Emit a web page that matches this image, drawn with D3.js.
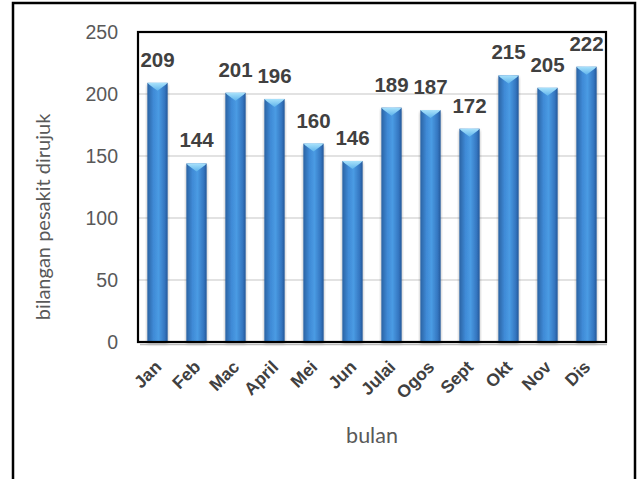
<!DOCTYPE html>
<html lang="en">
<head>
<meta charset="utf-8">
<title>bilangan pesakit dirujuk</title>
<script src="https://d3js.org/d3.v7.min.js"></script>
<style>
  body { margin: 0; background: #fff; }
  .tick-y { font-family: 'Liberation Sans', Arial, sans-serif; font-size: 19.5px; fill: #595959; }
  .tick-x { font-family: 'Liberation Sans', Arial, sans-serif; font-size: 17.5px; font-weight: bold; fill: #404040; }
  .val { font-family: 'Liberation Sans', Arial, sans-serif; font-size: 20.5px; font-weight: bold; fill: #404040; }
  .title { font-family: 'Lato', 'Open Sans', sans-serif; font-size: 20px; fill: #595959; }
</style>
</head>
<body>
<svg id="chart" width="641" height="479"></svg>
<script>
// data
var months = ["Jan", "Feb", "Mac", "April", "Mei", "Jun", "Julai", "Ogos", "Sept", "Okt", "Nov", "Dis"];
var patients = [209, 144, 201, 196, 160, 146, 189, 187, 172, 215, 205, 222];
var yTicks = [0, 50, 100, 150, 200, 250];

var svg = d3.select("#chart");

// outer frame (runs off the bottom of the picture)
svg.append("rect")
  .attr("x", 13).attr("y", 3)
  .attr("width", 622).attr("height", 520)
  .attr("fill", "none").attr("stroke", "#000").attr("stroke-width", 2.5);

var plot = { left: 138, right: 606, top: 32, bottom: 342 };

var x = d3.scaleBand()
  .domain(months)
  .range([plot.left, plot.right])
  .paddingInner(0.48)
  .paddingOuter(0.24);

var y = d3.scaleLinear()
  .domain([0, 250])
  .range([plot.bottom, plot.top]);

var defs = svg.append("defs");
var grad = defs.append("linearGradient").attr("id", "barGrad")
  .attr("x1", "0%").attr("x2", "100%").attr("y1", "0%").attr("y2", "0%");
grad.append("stop").attr("offset", "0%").attr("stop-color", "#2a63a3");
grad.append("stop").attr("offset", "30%").attr("stop-color", "#3f8ad6");
grad.append("stop").attr("offset", "55%").attr("stop-color", "#4a9be3");
grad.append("stop").attr("offset", "85%").attr("stop-color", "#3476c0");
grad.append("stop").attr("offset", "100%").attr("stop-color", "#24599a");

var capGrad = defs.append("linearGradient").attr("id", "capGrad")
  .attr("x1", "0%").attr("x2", "0%").attr("y1", "0%").attr("y2", "100%");
capGrad.append("stop").attr("offset", "0%").attr("stop-color", "#a9e2fb");
capGrad.append("stop").attr("offset", "100%").attr("stop-color", "#5fb4ec");

var shadow = defs.append("filter").attr("id", "shadow")
  .attr("x", "-10%").attr("y", "-10%").attr("width", "120%").attr("height", "130%");
shadow.append("feDropShadow").attr("dx", 0).attr("dy", 2).attr("stdDeviation", 1.5)
  .attr("flood-color", "#000").attr("flood-opacity", 0.35);

// gridlines
svg.append("g")
  .selectAll("line")
  .data(yTicks.filter(function(d) { return d > 0 && d < 250; }))
  .enter().append("line")
  .attr("x1", plot.left).attr("x2", plot.right)
  .attr("y1", function(d) { return y(d); })
  .attr("y2", function(d) { return y(d); })
  .attr("stroke", "#d9d9d9").attr("stroke-width", 1.3);

// bars
var bars = svg.append("g").selectAll("g")
  .data(patients)
  .enter().append("g");

bars.append("rect")
  .attr("x", function(d, i) { return x(months[i]); })
  .attr("y", function(d) { return y(d); })
  .attr("width", x.bandwidth())
  .attr("height", function(d) { return y(0) - y(d); })
  .attr("fill", "url(#barGrad)")
  .attr("filter", "url(#shadow)");

bars.append("path")
  .attr("d", function(d, i) {
    var x0 = x(months[i]), w = x.bandwidth(), top = y(d);
    return "M" + x0 + "," + top + "L" + (x0 + w) + "," + top +
      "L" + (x0 + w - 2) + "," + (top + 2) +
      "L" + (x0 + w / 2) + "," + (top + 8) +
      "L" + (x0 + 2) + "," + (top + 2) + "Z";
  })
  .attr("fill", "url(#capGrad)");

// value labels
svg.append("g").selectAll("text")
  .data(patients)
  .enter().append("text")
  .attr("class", "val")
  .attr("text-anchor", "middle")
  .attr("x", function(d, i) { return x(months[i]) + x.bandwidth() / 2; })
  .attr("y", function(d) { return y(d) - 16; })
  .text(function(d) { return d; });

// plot border
svg.append("rect")
  .attr("x", plot.left).attr("y", plot.top)
  .attr("width", plot.right - plot.left).attr("height", plot.bottom - plot.top)
  .attr("fill", "none").attr("stroke", "#000").attr("stroke-width", 2.2);
svg.append("line")
  .attr("x1", plot.left + 2).attr("x2", plot.right + 1)
  .attr("y1", plot.bottom + 2.5).attr("y2", plot.bottom + 2.5)
  .attr("stroke", "#bbb").attr("stroke-width", 1.5);

// y axis
var yAxis = svg.append("g")
  .attr("transform", "translate(" + plot.left + ",0)")
  .call(d3.axisLeft(y).tickValues(yTicks).tickSize(0).tickPadding(20));
yAxis.select(".domain").remove();
yAxis.selectAll("text").attr("class", "tick-y").attr("fill", null).attr("font-size", null).attr("font-family", null);

// x axis
var xAxis = svg.append("g")
  .attr("transform", "translate(0," + plot.bottom + ")")
  .call(d3.axisBottom(x).tickSize(0));
xAxis.select(".domain").remove();
xAxis.selectAll("text")
  .attr("class", "tick-x").attr("fill", null).attr("font-size", null).attr("font-family", null)
  .attr("text-anchor", "end")
  .attr("dy", null)
  .attr("y", 0)
  .attr("transform", "translate(5,26) rotate(-45)");

// axis titles
svg.append("text")
  .attr("class", "title")
  .attr("text-anchor", "middle")
  .style("font-size", "21.5px")
  .attr("x", (plot.left + plot.right) / 2)
  .attr("y", 443)
  .text("bulan");

svg.append("text")
  .attr("class", "title")
  .attr("text-anchor", "middle")
  .attr("transform", "translate(50,217) rotate(-90)")
  .text("bilangan pesakit dirujuk");
</script>
</body>
</html>
